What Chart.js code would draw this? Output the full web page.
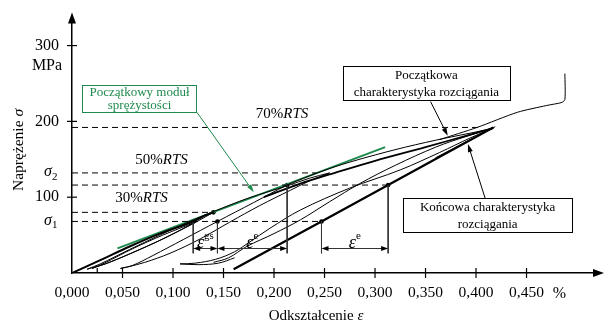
<!DOCTYPE html>
<html>
<head>
<meta charset="utf-8">
<script src="https://cdn.jsdelivr.net/npm/chart.js@4.4.1/dist/chart.umd.min.js"></script>
<style>
  html, body { margin: 0; padding: 0; background: #fff; }
  #wrap { width: 607px; height: 325px; }
</style>
</head>
<body>
<div id="wrap"><canvas id="wykres" width="607" height="325"></canvas></div>
<script>
// Odkształcenie w %, naprężenie w MPa
const tickX = [0, 0.05, 0.10, 0.15, 0.20, 0.25, 0.30, 0.35, 0.40, 0.45];
const tickY = [100, 200, 300];

// poziomy naprężeń
const sigma1 = 68;
const sigma2 = 132;
const poziom30 = 80;
const poziom116 = 116;
const poziom70 = 192;

// pierwsze obciążenie do 30% RTS
const obc1X = [0, 0.028, 0.057, 0.087, 0.120, 0.132, 0.140];
const obc1Y = [0, 17, 35, 52, 68, 76, 80];
// odciążenie z 30% RTS
const odc1X = [0.140, 0.132, 0.117, 0.087, 0.057, 0.033, 0.020, 0.015];
const odc1Y = [80, 74, 63, 43, 25, 12, 7, 5];
// mała pętla przy 30% RTS
const odc0X = [0.122, 0.090, 0.060, 0.035, 0.024, 0.020];
const odc0Y = [67, 45, 27, 13, 8, 6];
const pon0X = [0.020, 0.032, 0.060, 0.090, 0.122];
const pon0Y = [6, 13, 32, 50, 67];
// ponowne obciążenie do 50% RTS
const pon1X = [0.015, 0.028, 0.057, 0.087, 0.120, 0.140, 0.175, 0.213, 0.235, 0.255];
const pon1Y = [5, 12, 31, 50, 70, 81, 99, 115, 125, 132];
// odciążenie z 50% RTS
const odc2X = [0.255, 0.236, 0.216, 0.186, 0.156, 0.127, 0.097, 0.072, 0.055, 0.048];
const odc2Y = [132, 122, 109, 89, 67, 45, 26, 14, 8, 6];
// obciążenie do 70% RTS
const pon2X = [0.048, 0.060, 0.080, 0.110, 0.144, 0.180, 0.213, 0.235, 0.260, 0.290, 0.330, 0.370, 0.400, 0.417];
const pon2Y = [6, 10, 23, 44, 68, 93, 116, 128, 140, 152, 166, 178, 186, 191];
// początkowa charakterystyka (gruba)
const obwX = [0.190, 0.226, 0.255, 0.300, 0.350, 0.390, 0.417];
const obwY = [100, 118, 130, 148, 166, 181, 191];
// odciążenie z 70% RTS
const odc3X = [0.417, 0.394, 0.364, 0.325, 0.275, 0.226, 0.196, 0.176, 0.161, 0.142, 0.122, 0.107];
const odc3Y = [191, 178, 159, 136, 112, 83, 59, 41, 28, 18, 13, 12];
const petlaX = [0.107, 0.125, 0.145, 0.161];
const petlaY = [12, 11, 13, 20];
// drugi cykl do 70% RTS
const pon3X = [0.140, 0.155, 0.173, 0.200, 0.226, 0.255, 0.285, 0.320, 0.360, 0.390, 0.417];
const pon3Y = [14, 20, 35, 52, 70, 94, 118, 142, 166, 180, 191];
// końcowa charakterystyka
const konX = [0.160, 0.247, 0.313, 0.417];
const konY = [5, 68, 116, 192];
const kon2X = [0.360, 0.419];
const kon2Y = [152, 193];
// dalsze rozciąganie
const dalX = [0.364, 0.401, 0.441, 0.470, 0.485, 0.488, 0.488];
const dalY = [176, 192, 212, 221, 225, 229, 263];
// początkowy moduł sprężystości
const modX = [0.045, 0.310];
const modY = [32.5, 166];

// linie przerywane
const poziomy = [poziom70, sigma2, poziom116, poziom30, sigma1];
const koniecPoziomu = [0.404, 0.242, 0.313, 0.135, 0.247];

// linie pionowe z kropkami
const pionX = [0.120, 0.144, 0.213, 0.247, 0.313];
const pionGora = [sigma1, sigma1, poziom116, sigma1, poziom116];
const pionDol = 26;
const wierzcholek = { x: 0.140, y: 80 };

// wymiary odkształceń
const wymiarY = 33;
const wymiary = [
  { od: 0.120, do: 0.144, ind: 'gs' },
  { od: 0.144, do: 0.213, ind: 'e' },
  { od: 0.247, do: 0.313, ind: 'e' }
];

const ZIELONY = '#1f8a4d';
const SERIF = '"Liberation Serif", "Times New Roman", "DejaVu Serif", serif';

const pts = (xs, ys) => xs.map((x, i) => ({ x: x, y: ys[i] }));

function linia(xs, ys, w, extra) {
  return Object.assign({
    data: pts(xs, ys),
    showLine: true,
    borderColor: '#000',
    borderWidth: w,
    pointRadius: 0,
    tension: 0.35,
    fill: false
  }, extra || {});
}

const datasets = [];
poziomy.forEach((p, i) => {
  datasets.push(linia([0, koniecPoziomu[i]], [p, p], 1, { borderDash: [6, 4], tension: 0 }));
});
pionX.forEach((x, i) => {
  datasets.push(linia([x, x], [pionGora[i], pionDol], 1, { borderColor: '#333', tension: 0 }));
});
datasets.push(linia(odc0X, odc0Y, 1));
datasets.push(linia(pon0X, pon0Y, 1));
datasets.push(linia(odc1X, odc1Y, 1));
datasets.push(linia(pon1X, pon1Y, 1));
datasets.push(linia(odc2X, odc2Y, 1));
datasets.push(linia(pon2X, pon2Y, 1));
datasets.push(linia(odc3X, odc3Y, 1));
datasets.push(linia(petlaX, petlaY, 1));
datasets.push(linia(pon3X, pon3Y, 1));
datasets.push(linia(kon2X, kon2Y, 1, { tension: 0 }));
datasets.push(linia(dalX, dalY, 1, { tension: 0.25 }));
datasets.push(linia(obc1X, obc1Y, 2));
datasets.push(linia(obwX, obwY, 1.8));
datasets.push(linia(konX, konY, 2.2, { tension: 0 }));
datasets.push(linia(modX, modY, 2, { borderColor: ZIELONY, tension: 0 }));
datasets.push({
  data: pionX.map((x, i) => ({ x: x, y: pionGora[i] })).concat([wierzcholek]),
  pointRadius: 2.3,
  pointBackgroundColor: '#000',
  pointBorderWidth: 0,
  showLine: false
});

function font(kursywa, rozmiar) {
  return (kursywa ? 'italic ' : '') + rozmiar + 'px ' + SERIF;
}

// tekst z fragmentami kursywy
function tekst(ctx, czesci, x, y, wyr, rozmiar) {
  let szer = 0;
  czesci.forEach(c => { ctx.font = font(c[1], rozmiar); szer += ctx.measureText(c[0]).width; });
  let sx = wyr === 'center' ? x - szer / 2 : (wyr === 'right' ? x - szer : x);
  ctx.textAlign = 'left';
  czesci.forEach(c => {
    ctx.font = font(c[1], rozmiar);
    ctx.fillText(c[0], sx, y);
    sx += ctx.measureText(c[0]).width;
  });
}

function strzalka(ctx, x1, y1, x2, y2, dl, pol) {
  const a = Math.atan2(y2 - y1, x2 - x1);
  ctx.beginPath();
  ctx.moveTo(x1, y1);
  ctx.lineTo(x2 - Math.cos(a) * dl * 0.6, y2 - Math.sin(a) * dl * 0.6);
  ctx.stroke();
  grot(ctx, x2, y2, a, dl, pol);
}

function grot(ctx, x, y, a, dl, pol) {
  ctx.beginPath();
  ctx.moveTo(x, y);
  ctx.lineTo(x - Math.cos(a) * dl - Math.sin(a) * pol, y - Math.sin(a) * dl + Math.cos(a) * pol);
  ctx.lineTo(x - Math.cos(a) * dl + Math.sin(a) * pol, y - Math.sin(a) * dl - Math.cos(a) * pol);
  ctx.closePath();
  ctx.fill();
}

function ramka(ctx, x1, y1, x2, y2, kolor, linie, rozmiar) {
  ctx.fillStyle = '#fff';
  ctx.fillRect(x1, y1, x2 - x1, y2 - y1);
  ctx.strokeStyle = kolor;
  ctx.lineWidth = 1;
  ctx.strokeRect(Math.round(x1) + 0.5, Math.round(y1) + 0.5, Math.round(x2 - x1), Math.round(y2 - y1));
  ctx.fillStyle = kolor;
  ctx.font = font(false, rozmiar);
  ctx.textAlign = 'center';
  ctx.textBaseline = 'middle';
  const sr = (x1 + x2) / 2;
  const h = (y2 - y1) / linie.length;
  linie.forEach((t, i) => ctx.fillText(t, sr, y1 + h * (i + 0.5) + 0.5));
}

const opisy = {
  id: 'opisy',
  afterDraw(chart) {
    const ctx = chart.ctx;
    const xs = chart.scales.x, ys = chart.scales.y;
    const X = v => xs.getPixelForValue(v);
    const Y = v => ys.getPixelForValue(v);
    const a = chart.chartArea;
    ctx.save();
    ctx.fillStyle = '#000';
    ctx.strokeStyle = '#000';
    ctx.lineWidth = 1.5;

    // groty osi
    grot(ctx, a.left, a.top - 10, -Math.PI / 2, 11, 4);
    ctx.beginPath(); ctx.moveTo(a.left, a.top); ctx.lineTo(a.left, a.top - 2); ctx.stroke();
    grot(ctx, a.right + 10, a.bottom, 0, 11, 4);

    // kreski podziałki
    ctx.lineWidth = 1.2;
    tickX.forEach(v => {
      if (v === 0) return;
      ctx.beginPath(); ctx.moveTo(X(v), a.bottom - 5); ctx.lineTo(X(v), a.bottom + 5); ctx.stroke();
    });
    ctx.beginPath(); ctx.moveTo(X(0.025), a.bottom - 5); ctx.lineTo(X(0.025), a.bottom); ctx.stroke();
    tickY.forEach(v => {
      ctx.beginPath(); ctx.moveTo(a.left - 5, Y(v)); ctx.lineTo(a.left + 5, Y(v)); ctx.stroke();
    });

    // opisy osi
    ctx.textBaseline = 'middle';
    ctx.font = font(false, 16);
    ctx.textAlign = 'center';
    ctx.fillText('MPa', 47, Y(300) + 20);
    ctx.fillText('%', X(0.4825), a.bottom + 21);
    [[sigma1, '1'], [sigma2, '2']].forEach(s => {
      ctx.font = font(true, 16);
      ctx.textAlign = 'right';
      ctx.fillText('σ', 52, Y(s[0]) - 1);
      ctx.font = font(false, 11);
      ctx.textAlign = 'left';
      ctx.fillText(s[1], 52, Y(s[0]) + 4);
    });
    ctx.textBaseline = 'alphabetic';
    tekst(ctx, [['Odkształcenie ', false], ['ε', true]], 316, 320, 'center', 15);
    ctx.save();
    ctx.translate(23, 150);
    ctx.rotate(-Math.PI / 2);
    tekst(ctx, [['Naprężenie ', false], ['σ', true]], 0, 0, 'center', 15.5);
    ctx.restore();

    // poziomy RTS
    ctx.textBaseline = 'middle';
    tekst(ctx, [['70%', false], ['RTS', true]], X(0.208), Y(210), 'center', 15);
    tekst(ctx, [['50%', false], ['RTS', true]], X(0.0886), Y(149), 'center', 15);
    tekst(ctx, [['30%', false], ['RTS', true]], X(0.0688), Y(99), 'center', 15);

    // wymiary odkształceń
    ctx.lineWidth = 1;
    ctx.strokeStyle = '#333';
    ctx.fillStyle = '#000';
    wymiary.forEach(w => {
      const x1 = X(w.od), x2 = X(w.do), y = Math.round(Y(wymiarY)) + 0.5;
      ctx.beginPath(); ctx.moveTo(x1 + 3, y); ctx.lineTo(x2 - 3, y); ctx.stroke();
      grot(ctx, x1, y, Math.PI, 7, 2.5);
      grot(ctx, x2, y, 0, 7, 2.5);
      ctx.textBaseline = 'alphabetic';
      ctx.font = font(true, 18);
      const we = ctx.measureText('ε').width;
      ctx.font = font(false, 11);
      const wi = ctx.measureText(w.ind).width;
      const sx = (x1 + x2) / 2 - (we + wi) / 2;
      ctx.font = font(true, 18);
      ctx.fillText('ε', sx, y - 1);
      ctx.font = font(false, 11);
      ctx.fillText(w.ind, sx + we, y - 10);
    });

    // ramki z opisami
    ramka(ctx, X(0.0102), Y(248.3), X(0.1235), Y(212.2), ZIELONY, ['Początkowy moduł', 'sprężystości'], 13);
    ramka(ctx, X(0.268), Y(272.8), X(0.4337), Y(227.6), '#000', ['Początkowa', 'charakterystyka rozciągania'], 13);
    ramka(ctx, X(0.328), Y(98.3), X(0.495), Y(53), '#000', ['Końcowa charakterystyka', 'rozciągania'], 13);

    ctx.lineWidth = 1;
    ctx.strokeStyle = ZIELONY;
    ctx.fillStyle = ZIELONY;
    strzalka(ctx, X(0.1238), Y(211.8), X(0.180), Y(106.6), 8, 2.5);
    ctx.strokeStyle = '#000';
    ctx.fillStyle = '#000';
    strzalka(ctx, X(0.355), Y(226), X(0.372), Y(181), 8, 2.5);
    strzalka(ctx, X(0.409), Y(98.7), X(0.392), Y(170), 8, 2.5);
    ctx.restore();
  }
};

new Chart(document.getElementById('wykres'), {
  type: 'scatter',
  data: { datasets: datasets },
  options: {
    responsive: false,
    animation: false,
    events: [],
    layout: { padding: { left: 0, right: 13, top: 22, bottom: 0 } },
    plugins: { legend: { display: false }, tooltip: { enabled: false } },
    scales: {
      x: {
        type: 'linear',
        min: 0,
        max: 0.5168,
        afterBuildTicks: s => { s.ticks = tickX.map(v => ({ value: v })); },
        afterFit: s => { s.height = 52; },
        grid: { display: false, drawTicks: false },
        border: { display: true, color: '#000', width: 1.5 },
        ticks: {
          padding: 11,
          color: '#000',
          maxRotation: 0,
          autoSkip: false,
          font: { family: SERIF, size: 15.5 },
          callback: v => v.toFixed(3).replace('.', ',')
        }
      },
      y: {
        type: 'linear',
        min: 0,
        max: 330.3,
        afterBuildTicks: s => { s.ticks = tickY.map(v => ({ value: v })); },
        afterFit: s => { s.width = 72; },
        grid: { display: false, drawTicks: false },
        border: { display: true, color: '#000', width: 1.5 },
        ticks: {
          padding: 13,
          color: '#000',
          font: { family: SERIF, size: 16 },
          callback: v => String(v)
        }
      }
    }
  },
  plugins: [opisy]
});
</script>
</body>
</html>
